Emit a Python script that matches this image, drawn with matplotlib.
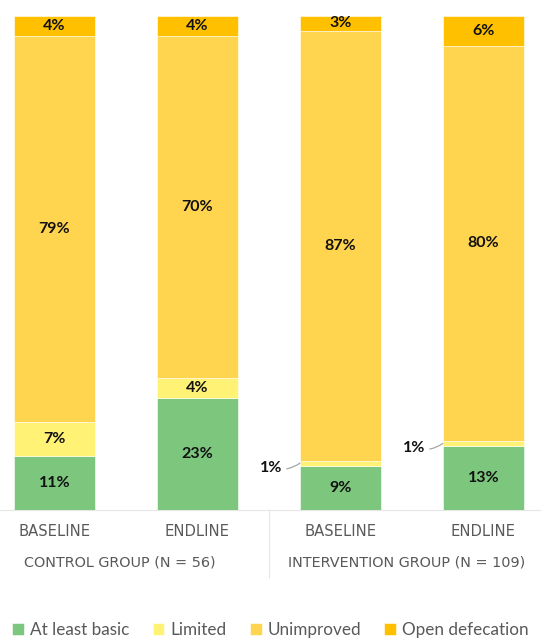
import numpy as np
import matplotlib.pyplot as plt
from matplotlib.transforms import blended_transform_factory

plt.rcParams['font.family'] = ['Lato', 'DejaVu Sans']

categories = ['BASELINE', 'ENDLINE', 'BASELINE', 'ENDLINE']
groups = ['CONTROL GROUP (N = 56)', 'INTERVENTION GROUP (N = 109)']
series = ['At least basic', 'Limited', 'Unimproved', 'Open defecation']
at_least_basic = [11, 23, 9, 13]
limited = [7, 4, 1, 1]
unimproved = [79, 70, 87, 80]
open_defecation = [4, 4, 3, 6]
colors = ['#7DC67E', '#FFF275', '#FFD44F', '#FFC000']

values = np.array([at_least_basic, limited, unimproved, open_defecation], dtype=float)
shares = values / values.sum(axis=0) * 100

fig = plt.figure(figsize=(5.41, 6.38), dpi=100)
ax = fig.add_axes([0, 128 / 638, 1, 494 / 638])

x = np.arange(len(categories))
width = 0.566
bottom = np.zeros(len(categories))
for i, name in enumerate(series):
    ax.bar(x, shares[i], width, bottom=bottom, color=colors[i], label=name,
           edgecolor='white', linewidth=0.4)
    for j in range(len(categories)):
        v = values[i, j]
        yc = bottom[j] + shares[i, j] / 2
        if v >= 3:
            ax.text(x[j], yc, f'{int(v)}%', ha='center', va='center',
                    fontsize=11.5, fontweight='bold', color='#111111')
        else:
            # small slice: label outside with a leader line
            xe = x[j] - width / 2
            ax.annotate(f'{int(v)}%', xy=(xe, yc), xytext=(xe - 0.2, yc - 0.9),
                        ha='center', va='center', fontsize=11.5,
                        fontweight='bold', color='#111111',
                        arrowprops=dict(arrowstyle='-', color='#A6A6A6',
                                        lw=0.9, shrinkA=1, shrinkB=0,
                                        connectionstyle='arc3,rad=0.25'))
    bottom += shares[i]

ax.set_xlim(-54.5 / 143, (541 - 54.5) / 143)
ax.set_ylim(0, 100)
ax.axis('off')
ax.axhline(0, color='#E6E6E6', lw=0.8, zorder=0, clip_on=False)

tr = blended_transform_factory(ax.transData, fig.transFigure)
for j, c in enumerate(categories):
    ax.text(x[j], 1 - 531 / 638, c, transform=tr, ha='center', va='center',
            fontsize=10.6, color='#595959', family='DejaVu Sans')
for g, name in enumerate(groups):
    ax.text(2 * g + 0.46, 1 - 563 / 638, name, transform=tr, ha='center',
            va='center', fontsize=10.4, color='#595959', family='DejaVu Sans')
ax.plot([1.5, 1.5], [1 - 510 / 638, 1 - 578 / 638], transform=tr,
        color='#E6E6E6', lw=0.8, clip_on=False)

fig.legend(loc='lower center', bbox_to_anchor=(0.5, -0.024), ncol=4,
           frameon=False, fontsize=12.3, labelcolor='#595959',
           handlelength=0.7, handleheight=0.7, handletextpad=0.35,
           columnspacing=1.35)

fig.savefig('out.png', dpi=100)
